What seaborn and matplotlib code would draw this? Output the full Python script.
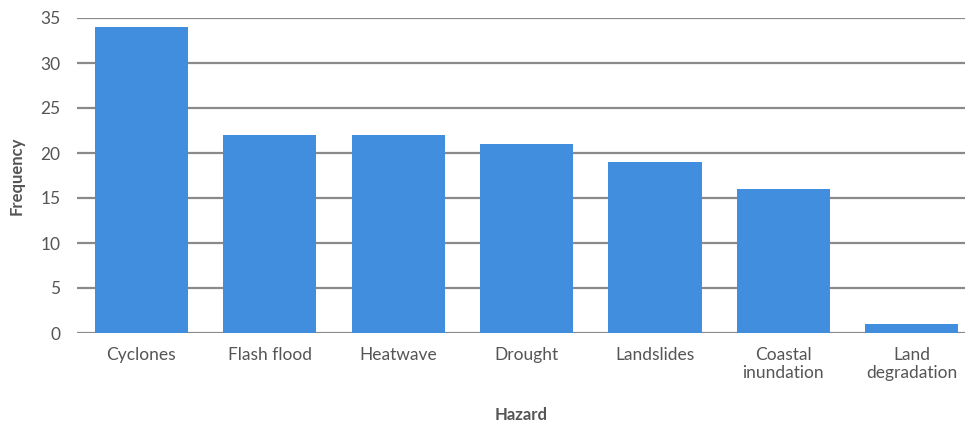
import matplotlib
matplotlib.use("Agg")
import matplotlib.pyplot as plt
import seaborn as sns
import pandas as pd

hazards = ["Cyclones", "Flash flood", "Heatwave", "Drought", "Landslides",
           "Coastal\ninundation", "Land\ndegradation"]
frequency = [34, 22, 22, 21, 19, 16, 1]
y_ticks = [0, 5, 10, 15, 20, 25, 30, 35]

df = pd.DataFrame({"Hazard": hazards, "Frequency": frequency})

sns.set_theme(style="white")
plt.rcParams["font.family"] = ["Lato", "DejaVu Sans"]

fig = plt.figure(figsize=(9.65, 4.24), dpi=100)
ax = fig.add_axes([77 / 965, 1 - 333 / 424, 1 - 77 / 965, (333 - 18) / 424])

sns.barplot(data=df, x="Hazard", y="Frequency", color="#418ede",
            saturation=1, width=0.725, linewidth=0, ax=ax, zorder=3)

ax.set_ylim(0, 35)
ax.set_xlim(-0.5, 6.414)
ax.set_yticks(y_ticks)
ax.yaxis.grid(True, color="#8a8a8a", linewidth=1.6, zorder=0)
ax.xaxis.grid(False)
for s in ax.spines.values():
    s.set_visible(False)

ax.tick_params(axis="y", length=0, pad=12, labelsize=12.5, labelcolor="#555555")
ax.tick_params(axis="x", length=0, pad=10, labelsize=12.5, labelcolor="#555555")
for lbl in ax.get_xticklabels():
    lbl.set_linespacing(1.15)

ax.set_ylabel("Frequency", fontsize=12, fontweight="bold", color="#555555", labelpad=11)
ax.set_xlabel("Hazard", fontsize=12, fontweight="bold", color="#555555", labelpad=19)

fig.savefig("out.png", dpi=100)
